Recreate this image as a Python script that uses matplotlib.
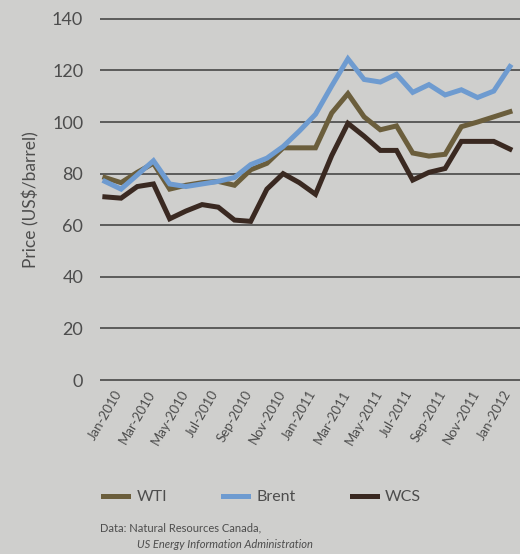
import matplotlib.pyplot as plt
from matplotlib.lines import Line2D

plt.rcParams['font.family'] = ['Lato', 'DejaVu Sans']

# Monthly crude oil prices, US$/barrel, Jan 2010 - Feb 2012
months = ['Jan-2010', 'Feb-2010', 'Mar-2010', 'Apr-2010', 'May-2010', 'Jun-2010',
          'Jul-2010', 'Aug-2010', 'Sep-2010', 'Oct-2010', 'Nov-2010', 'Dec-2010',
          'Jan-2011', 'Feb-2011', 'Mar-2011', 'Apr-2011', 'May-2011', 'Jun-2011',
          'Jul-2011', 'Aug-2011', 'Sep-2011', 'Oct-2011', 'Nov-2011', 'Dec-2011',
          'Jan-2012', 'Feb-2012']
wti = [78.5, 76.5, 80.5, 84, 74, 75.5, 76.5, 77, 75.5, 81.5, 84, 90,
       90, 90, 103.5, 111, 102, 97, 98.5, 88, 86.8, 87.5, 98.2, 100, 102, 104]
brent = [77, 74, 79.5, 85, 76, 75, 76, 77, 78.5, 83.5, 86, 90.5,
         96.5, 103, 114, 124.5, 116.5, 115.5, 118.5, 111.5, 114.5, 110.5, 112.5, 109.5, 112, 121.5]
wcs = [71, 70.5, 75, 76, 62.5, 65.5, 68, 67, 62, 61.5, 74, 80,
       76.5, 72, 87, 99.5, 94.5, 89, 89, 77.5, 80.5, 82, 92.5, 92.5, 92.5, 89.5]
yticks = [0, 20, 40, 60, 80, 100, 120, 140]

bg = '#cfcfcd'
text_col = '#4d4d4d'
series = [('WTI', wti, '#6b5e3c'), ('Brent', brent, '#6e9bd0'), ('WCS', wcs, '#3a2921')]

fig = plt.figure(figsize=(5.2, 5.54), dpi=100, facecolor=bg)
ax = fig.add_axes([0.192, 0.307, 0.808, 0.666])
ax.set_facecolor(bg)

for y in yticks:
    ax.axhline(y, color='#3c3c3c', linewidth=1.1, zorder=1)

x = range(len(months))
for name, vals, col in series:
    ax.plot(x, vals, color=col, linewidth=3.6, solid_joinstyle='miter', label=name, zorder=3)

ax.set_xlim(-0.31, len(months) - 1 + 0.62)
ax.set_ylim(-1.5, 141.5)
ax.set_yticks(yticks)
ax.set_yticklabels([str(v) for v in yticks], fontsize=13, color=text_col)
ax.set_xticks(list(x)[::2])
ax.set_xticklabels(months[::2], rotation=60, ha='center', fontsize=9.5, color=text_col)
ax.tick_params(axis='y', length=0, pad=12)
ax.tick_params(axis='x', length=0, pad=3)
for s in ax.spines.values():
    s.set_visible(False)
ax.set_ylabel('Price (US\\$/barrel)', fontsize=12.5, color=text_col, labelpad=9)

handles = [Line2D([], [], color=c, linewidth=3.6) for _, _, c in series]
fig.legend(handles, [n for n, _, _ in series], loc='center left', bbox_to_anchor=(0.17, 1 - 497 / 554),
           ncol=3, frameon=False, fontsize=11.5, handlelength=1.6, handletextpad=0.5,
           columnspacing=3.5, labelcolor=text_col)

fig.text(100 / 520, 1 - 528 / 554, 'Data: Natural Resources Canada,', fontsize=8,
         color=text_col, va='center')
fig.text(137 / 520, 1 - 545 / 554, 'US Energy Information Administration', fontsize=8,
         color=text_col, style='italic', va='center')

fig.savefig('out.png', dpi=100, facecolor=bg)
